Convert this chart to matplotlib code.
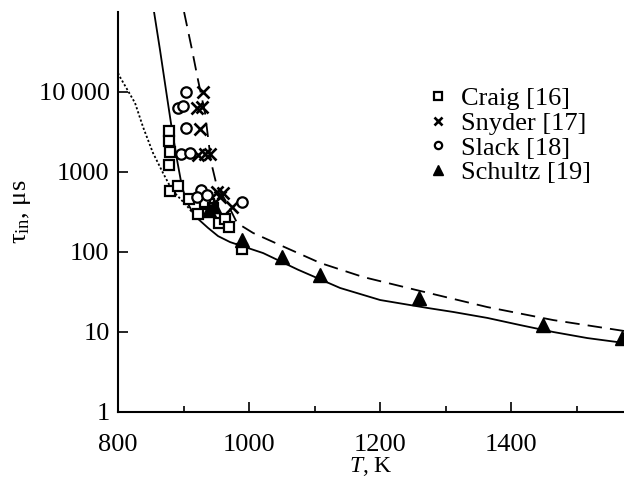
import matplotlib
matplotlib.use("Agg")
import matplotlib.pyplot as plt

plt.rcParams['font.family'] = ['Liberation Serif', 'DejaVu Serif']
plt.rcParams['mathtext.fontset'] = 'custom'
plt.rcParams['mathtext.rm'] = 'Liberation Serif'
plt.rcParams['mathtext.it'] = 'Liberation Serif:italic'

# ---- data ----
craig_T = [877.9, 877.9, 879.4, 877.9, 879.4, 891.6, 908.4, 922.1, 938.9, 954.2, 963.4, 969.5, 989.3, 932.0, 945.0]
craig_tau = [3255, 2440, 1778, 1223, 579, 668, 460, 298, 398, 230, 258, 205, 109, 420, 350]

snyder_T = [929.8, 920.6, 928.2, 925.2, 922.1, 932.8, 940.5, 951.1, 955.7, 960.3, 974.0]
snyder_tau = [10000, 6310, 6500, 3460, 1630, 1680, 1680, 562, 490, 550, 365]

slack_T = [903.8, 891.6, 899.2, 903.8, 896.2, 909.9, 926.7, 920.6, 935.9, 989.3]
slack_tau = [10000, 6310, 6680, 3550, 1680, 1740, 596, 490, 515, 422]

schultz_T = [989.3, 1050.4, 1108.4, 1259.5, 1448.9, 1569.5, 938.9, 946.6]
schultz_tau = [141, 87, 52, 26.6, 12.2, 8.4, 335, 376]

solid_T = [855.0, 864.1, 874.8, 882.4, 890.1, 897.7, 905.3, 914.5, 920.6, 937.4, 952.7,
           971.0, 1021.4, 1074.8, 1138.9, 1200.0, 1271.8, 1311.5, 1363.4, 1413.7, 1464.1,
           1516.0, 1572.0]
solid_tau = [100000, 33500, 8660, 3350, 1413, 649, 422, 307, 266, 200, 158,
             133, 97, 60, 35.5, 25.1, 20.0, 17.8, 15.0, 12.2, 10.0,
             8.4, 7.3]

dashed_T = [900.8, 913.0, 922.1, 932.8, 942.0, 951.1, 966.4, 981.7, 1006.1, 1047.3,
            1108.4, 1174.0, 1255.0, 1363.4, 1464.0, 1572.0]
dashed_tau = [100000, 33500, 14100, 5465, 1330, 649, 410, 230, 173, 122,
              73, 48.7, 33.5, 20.5, 14.1, 10.3]

dotted_T = [800.0, 803.0, 826.0, 838.2, 853.4, 868.7, 882.4, 905.3, 917.6, 920.6]
dotted_tau = [17300, 15400, 7290, 3650, 1730, 972, 596, 376, 282, 266]

xticks = [800, 1000, 1200, 1400]
xminor = [900, 1100, 1300, 1500]
yticks = [1, 10, 100, 1000, 10000]
yticklabels = ['1', '10', '100', '1000', '10\u2009000']

FS = 19

# ---- figure ----
fig = plt.figure(figsize=(6.24, 4.78), dpi=100)
ax = fig.add_axes([118/624, 66/478, 506/624, 400/478])

ax.plot(solid_T, solid_tau, color='black', lw=1.3, solid_joinstyle='round')
ax.plot(dashed_T, dashed_tau, color='black', lw=1.3, dashes=(8, 4.5))
ax.plot(dotted_T, dotted_tau, color='black', lw=1.3, dashes=(1.2, 1.2))

ax.plot(craig_T, craig_tau, ls='none', marker='s', ms=7.5, mfc='white', mec='black', mew=1.6,
        label='Craig [16]')
ax.plot(snyder_T, snyder_tau, ls='none', marker='x', ms=8.5, mec='black', mew=1.9,
        label='Snyder [17]')
ax.plot(slack_T, slack_tau, ls='none', marker='o', ms=7.5, mfc='white', mec='black', mew=1.6,
        label='Slack [18]')
ax.plot(schultz_T, schultz_tau, ls='none', marker='^', ms=9.5, mfc='black', mec='black',
        label='Schultz [19]')

ax.set_yscale('log')
ax.set_xlim(800, 1572)
ax.set_ylim(1, 1e5)

ax.set_xticks(xticks)
ax.set_xticks(xminor, minor=True)
ax.set_xticklabels([str(t) for t in xticks])
ax.set_yticks(yticks)
ax.set_yticklabels(yticklabels)
ax.yaxis.set_minor_locator(matplotlib.ticker.NullLocator())

ax.tick_params(axis='both', which='major', direction='in', length=7, width=1.2, labelsize=FS)
ax.tick_params(axis='x', which='minor', direction='in', length=4.5, width=1.2)
ax.tick_params(axis='x', which='major', pad=16)
ax.tick_params(axis='y', which='major', pad=6)

for s in ['top', 'right']:
    ax.spines[s].set_visible(False)
for s in ['left', 'bottom']:
    ax.spines[s].set_linewidth(1.5)

ax.set_xlabel('$\\mathit{T}$, K', fontsize=17, labelpad=-1)
ax.set_ylabel('τ$_{\\mathregular{in}}$, μs', fontsize=FS, labelpad=4)

leg = ax.legend(loc='upper left', bbox_to_anchor=(0.591, 0.84), frameon=False,
                fontsize=FS, markerscale=0.7, handlelength=0.8, handletextpad=0.45,
                labelspacing=0.05, borderaxespad=0)

fig.savefig('out.png', dpi=100)
